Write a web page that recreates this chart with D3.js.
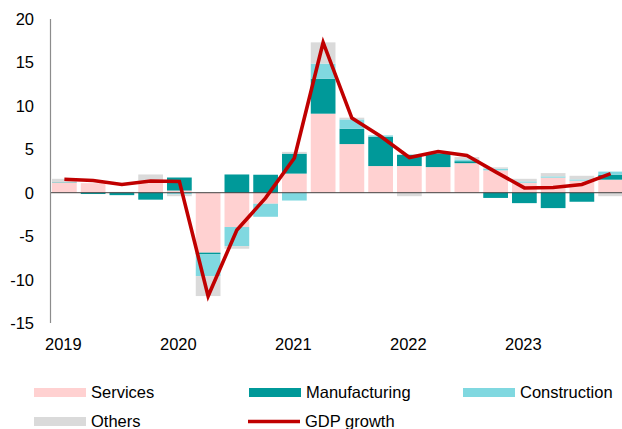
<!DOCTYPE html>
<html>
<head>
<meta charset="utf-8">
<script src="https://cdn.jsdelivr.net/npm/d3@7"></script>
<style>
  html, body { margin: 0; padding: 0; background: #fff; }
  svg { display: block; font-family: "Liberation Sans", Arial, sans-serif; }
</style>
</head>
<body>
<svg id="chart" width="622" height="429"></svg>
<script>
// ---- data ----
const quarters = [
  "2019Q1","2019Q2","2019Q3","2019Q4",
  "2020Q1","2020Q2","2020Q3","2020Q4",
  "2021Q1","2021Q2","2021Q3","2021Q4",
  "2022Q1","2022Q2","2022Q3","2022Q4",
  "2023Q1","2023Q2","2023Q3","2023Q4"
];
const yearLabels = ["2019","2020","2021","2022","2023"];
const services      = [1.15, 1.1, 0.1, 1.4, 0.25, -6.9, -3.95, -1.27, 2.2, 9.1, 5.6, 3.07, 3.07, 2.95, 3.4, 2.57, 1.15, 1.73, 1.38, 1.5];
const manufacturing = [0.05, -0.15, -0.28, -0.8, 1.5, -0.2, 2.1, 2.07, 2.3, 4.03, 1.77, 3.38, 1.3, 1.57, 0.23, -0.6, -1.2, -1.77, -1.04, 0.58];
const construction  = [0, 0, 0, 0, -0.2, -2.5, -2.2, -1.5, -0.9, 1.73, 1.07, 0.15, 0, 0, 0.2, 0.2, 0.15, 0.15, 0.15, 0.35];
const others        = [0.4, 0, 0, 0.7, -0.2, -2.3, -0.3, 0, 0.2, 2.45, 0.2, 0, -0.4, 0, 0.27, 0.15, 0.3, 0.38, 0.42, -0.4];
const gdpGrowth     = [1.55, 1.4, 0.95, 1.35, 1.3, -11.9, -4.3, -0.6, 4.0, 17.3, 8.6, 6.5, 4.05, 4.75, 4.3, 2.4, 0.55, 0.6, 0.95, 2.2];
const yTicks = [20, 15, 10, 5, 0, -5, -10, -15];
const seriesNames = ["Services", "Manufacturing", "Construction", "Others"];
const seriesColors = ["#FFD1D1", "#009999", "#80D8E0", "#DADADA"];
const lineName = "GDP growth";
const lineColor = "#C00000";
const titleText = "Real GDP growth (% year-on-year) and sector contributions (ppt)";

// ---- build table ----
const seriesValues = [services, manufacturing, construction, others];
const table = quarters.map((q, i) => {
  const row = { q };
  seriesNames.forEach((n, k) => row[n] = seriesValues[k][i]);
  return row;
});

const svg = d3.select("#chart");
const W = 622;

const x = d3.scaleBand().domain(quarters).range([50, 625]).paddingInner(0.14).paddingOuter(0.07);
const y = d3.scaleLinear().domain([-15, 20]).range([323, 19]);

// title (cut off at the top edge, as in the reference)
svg.append("text").attr("x", 40).attr("y", -3.5).attr("font-size", 16.5).attr("fill", "#000").text(titleText);

// bars
const stack = d3.stack().keys(seriesNames).offset(d3.stackOffsetDiverging);
const stacked = stack(table);
const gBars = svg.append("g");
stacked.forEach((layer, k) => {
  gBars.selectAll(null).data(layer).join("rect")
    .attr("x", d => x(d.data.q))
    .attr("width", x.bandwidth())
    .attr("y", d => y(Math.max(d[0], d[1])))
    .attr("height", d => Math.abs(y(d[0]) - y(d[1])))
    .attr("fill", seriesColors[k]);
});

// zero line
svg.append("line").attr("x1", 50).attr("x2", W).attr("y1", y(0)).attr("y2", y(0))
  .attr("stroke", "#404040").attr("stroke-width", 1);

// y axis line
svg.append("line").attr("x1", 50.5).attr("x2", 50.5).attr("y1", y(20)).attr("y2", y(-15))
  .attr("stroke", "#8c8c8c").attr("stroke-width", 1.2);

// y tick labels
svg.append("g").selectAll("text").data(yTicks).join("text")
  .attr("x", 34).attr("y", d => y(d)).attr("dy", "0.36em")
  .attr("text-anchor", "end").attr("font-size", 16.5).attr("fill", "#000")
  .text(d => d);

// x labels (years under Q1)
svg.append("g").selectAll("text").data(yearLabels).join("text")
  .attr("x", (d, i) => x(quarters[i * 4]) + x.bandwidth() / 2 - 1)
  .attr("y", 344).attr("dy", "0.36em")
  .attr("text-anchor", "middle").attr("font-size", 16.5).attr("fill", "#000")
  .text(d => d);

// GDP line
const line = d3.line().x((d, i) => x(quarters[i]) + x.bandwidth() / 2).y(d => y(d));
svg.append("path").datum(gdpGrowth).attr("d", line)
  .attr("fill", "none").attr("stroke", lineColor).attr("stroke-width", 3.6)
  .attr("stroke-linejoin", "miter").attr("stroke-miterlimit", 10);

// legend
const legendItems = [
  { name: seriesNames[0], color: seriesColors[0], type: "rect", x: 34, y: 392.5 },
  { name: seriesNames[1], color: seriesColors[1], type: "rect", x: 249, y: 392.5 },
  { name: seriesNames[2], color: seriesColors[2], type: "rect", x: 463, y: 392.5 },
  { name: seriesNames[3], color: seriesColors[3], type: "rect", x: 34, y: 421.5 },
  { name: lineName, color: lineColor, type: "line", x: 248, y: 421.5 }
];
const lg = svg.append("g");
legendItems.forEach(it => {
  if (it.type === "rect") {
    lg.append("rect").attr("x", it.x).attr("y", it.y - 4.5).attr("width", 52).attr("height", 9).attr("fill", it.color);
  } else {
    lg.append("line").attr("x1", it.x).attr("x2", it.x + 52).attr("y1", it.y).attr("y2", it.y)
      .attr("stroke", it.color).attr("stroke-width", 3.6);
  }
  lg.append("text").attr("x", it.x + 57).attr("y", it.y).attr("dy", "0.36em")
    .attr("font-size", 16.5).attr("fill", "#000").text(it.name);
});
</script>
</body>
</html>
